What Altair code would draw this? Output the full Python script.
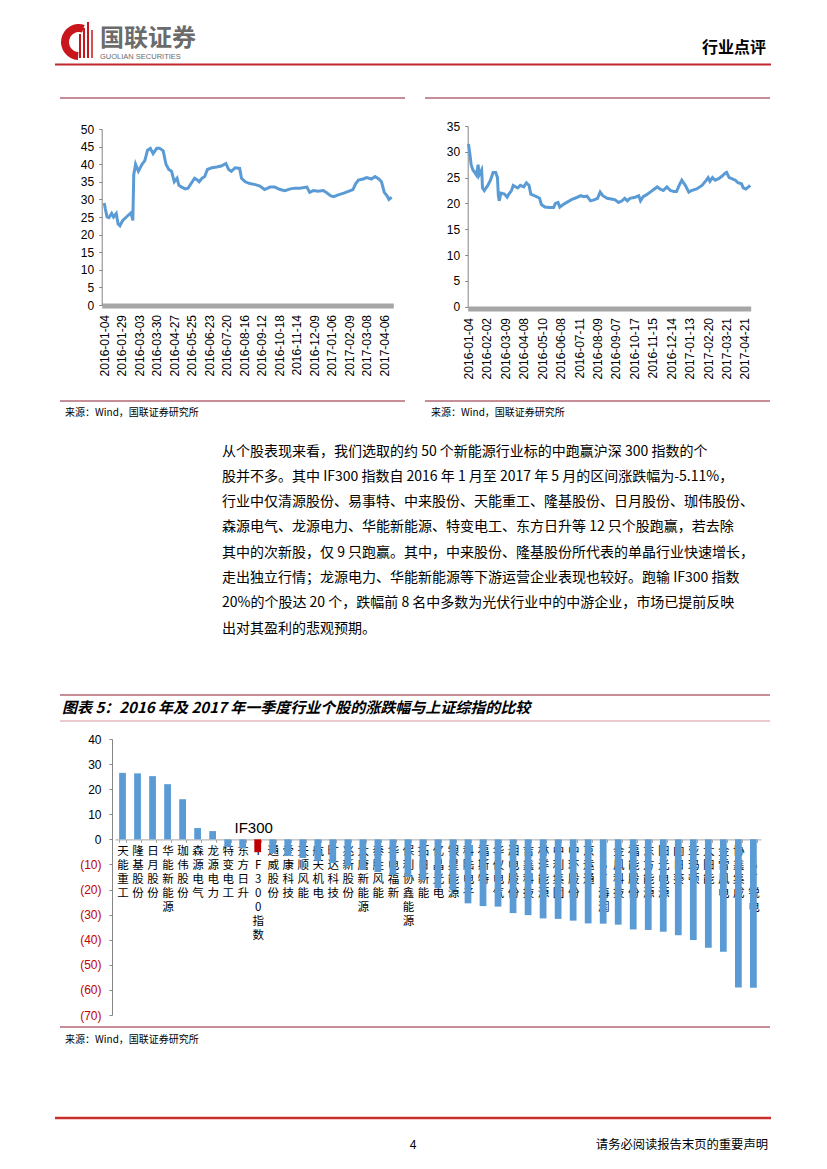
import altair as alt
import pandas as pd

CJK = "Noto Sans CJK SC"
LAT = "Liberation Sans"
W, H = 811, 1153
M = 8


def P(v):
    return v - M


# ---------------- data ----------------
left_idx = [0, 1, 3, 5, 8, 10, 13, 15, 17, 20, 22, 26, 29, 31, 32, 34, 37, 41, 44, 47,
            50, 53, 57, 60, 64, 67, 70, 73, 76, 79, 81, 84, 88, 91, 95, 98, 101, 103, 106, 109,
            112, 117, 122, 127, 132, 135, 138, 142, 147, 149, 153, 158, 164, 169, 174, 180, 185, 191, 196, 202,
            207, 212, 220, 223, 227, 232, 238, 241, 246, 249, 254, 260, 265, 270, 273, 276, 281, 285, 290, 294,
            298, 301, 304, 307, 309, 312]
left_val = [29, 27.5, 25, 24.8, 26, 25, 26, 23, 22.5, 24, 24.5, 25.5, 26.2, 24, 37, 40, 38, 40, 41, 44,
            44.5, 43, 44.5, 44.5, 43.8, 40, 38.5, 38, 35, 36, 34, 33.5, 33, 33.2, 34.8, 36, 35.5, 35, 36, 36.5,
            38.5, 39, 39.2, 39.5, 40.2, 38.5, 38, 39, 38.8, 36, 35, 34.5, 34.2, 33.8, 32.8, 33.5, 33.5, 32.8, 32.5, 33,
            33.2, 33.2, 33.5, 32, 32.5, 32.3, 32.5, 32, 31, 30.8, 31.3, 31.8, 32.3, 32.8, 34.5, 35.5, 35.8, 36.2, 35.8, 36.5,
            35.8, 35, 32, 31, 30, 30.6]
left_ticks = [0, 19, 38, 57, 76, 95, 114, 133, 152, 171, 190, 209, 228, 247, 266, 285, 304]
left_labels = ["2016-01-04", "2016-01-29", "2016-03-03", "2016-03-30", "2016-04-27", "2016-05-25",
               "2016-06-23", "2016-07-20", "2016-08-16", "2016-09-12", "2016-10-18", "2016-11-14",
               "2016-12-09", "2017-01-06", "2017-02-09", "2017-03-08", "2017-04-06"]

right_idx = [0, 2, 3, 5, 7, 9, 11, 12, 15, 16, 18, 22, 25, 28, 31, 33, 34, 35, 37, 41,
             44, 46, 49, 51, 54, 56, 59, 63, 66, 69, 71, 75, 78, 81, 83, 87, 92, 97, 99, 102,
             104, 108, 112, 118, 124, 128, 131, 135, 139, 143, 147, 150, 153, 158, 164, 167, 171, 175, 178, 181,
             184, 190, 194, 196, 199, 203, 207, 211, 215, 218, 222, 226, 230, 234, 237, 240, 243, 247, 251, 254,
             260, 266, 271, 273, 275, 278, 281, 285, 289, 292, 294, 297, 300, 304, 307, 311, 313, 316, 319, 321]
right_val = [31.5, 29, 27.5, 26.5, 26, 25.5, 27.5, 25.5, 26.5, 23, 22.5, 23.5, 24.5, 26, 26, 25, 21.5, 20.5, 22, 21.8,
             21.2, 21.8, 22.5, 23.5, 23.2, 23, 23.5, 23.2, 24, 23.5, 21.8, 21.5, 21.3, 21, 19.8, 19.3, 19.2, 19.2, 20, 20.2,
             19.3, 19.8, 20.2, 20.8, 21.2, 21.5, 21.3, 21.4, 20.5, 20.7, 21, 22.2, 21.5, 21, 20.8, 20.7, 20.2, 20.5, 21, 20.5,
             21, 21.2, 21.5, 20.5, 21.3, 21.7, 22.2, 22.7, 23.2, 22.8, 22.5, 23.2, 22.5, 22.3, 22.3, 23.5, 24.5, 23.5, 22.2, 22.5,
             22.8, 23.5, 24.5, 25, 24.3, 25, 24.5, 24.8, 25.3, 25.8, 26, 25, 24.8, 24.5, 24, 23.8, 23, 22.8, 23.2, 23.5]
right_ticks = [0, 21, 42, 63, 84, 105, 126, 147, 168, 189, 210, 231, 252, 273, 294, 315]
right_labels = ["2016-01-04", "2016-02-02", "2016-03-09", "2016-04-08", "2016-05-10", "2016-06-08",
                "2016-07-11", "2016-08-09", "2016-09-07", "2016-10-17", "2016-11-15", "2016-12-14",
                "2017-01-13", "2017-02-20", "2017-03-21", "2017-04-21"]

bar_cats = ["天能重工", "隆基股份", "日月股份", "华能新能源", "珈伟股份", "森源电气", "龙源电力", "特变电工",
            "东方日升", "IF300指数", "通威股份", "爱康科技", "天顺风能", "航天机电", "旷达科技", "兆新股份",
            "大唐新能源", "泰胜风能", "华电福新", "保利协鑫能源", "拓日新能", "亿晶光电", "银星能源", "科陆电子",
            "福斯特", "华仪电气", "湘电股份", "吉鑫科技", "林洋能源", "中利集团", "中环股份", "京运通",
            "*ST海润", "金风科技", "福能股份", "东方能源", "阳光电源", "向日葵", "亚玛顿", "太阳能",
            "金雷风电", "协鑫集成", "*ST锐电"]
bar_vals = [26.5, 26.3, 25.2, 22.0, 16.0, 4.5, 3.3, -3.0,
            -3.6, -5.11, -5.5, -6.6, -7.4, -8.6, -9.4, -10.6,
            -12.2, -13.0, -14.2, -15.0, -16.2, -19.5, -20.2, -25.5,
            -26.6, -26.8, -29.4, -30.2, -31.5, -31.7, -32.4, -33.5,
            -33.6, -34.0, -35.9, -36.1, -36.8, -38.2, -40.1, -43.2,
            -44.8, -59.0, -59.1]
bar_kind = ["index" if c == "IF300指数" else "stock" for c in bar_cats]
bar_ticks = [-70, -60, -50, -40, -30, -20, -10, 0, 10, 20, 30, 40]
index_cat = "IF300指数"
index_note = "IF300"

para_lines = [
    "\u3000\u3000从个股表现来看，我们选取的约 50 个新能源行业标的中跑赢沪深 300 指数的个",
    "股并不多。其中 IF300 指数自 2016 年 1 月至 2017 年 5 月的区间涨跌幅为-5.11%，",
    "行业中仅清源股份、易事特、中来股份、天能重工、隆基股份、日月股份、珈伟股份、",
    "森源电气、龙源电力、华能新能源、特变电工、东方日升等 12 只个股跑赢，若去除",
    "其中的次新股，仅 9 只跑赢。其中，中来股份、隆基股份所代表的单晶行业快速增长，",
    "走出独立行情；龙源电力、华能新能源等下游运营企业表现也较好。跑输 IF300 指数",
    "20%的个股达 20 个，跌幅前 8 名中多数为光伏行业中的中游企业，市场已提前反映",
    "出对其盈利的悲观预期。",
]
source_text = "来源：Wind，国联证券研究所"
fig_title = "图表 5：2016 年及 2017 年一季度行业个股的涨跌幅与上证综指的比较"

one = pd.DataFrame({"a": [0]})


def rule(x1, x2, y, color, w):
    return alt.Chart(one).mark_rule(color=color, strokeWidth=w).encode(
        x=alt.value(P(x1)), x2=alt.value(P(x2)), y=alt.value(P(y)))


def vrule(x, y1, y2, color, w):
    return alt.Chart(one).mark_rule(color=color, strokeWidth=w).encode(
        x=alt.value(P(x)), y=alt.value(P(y1)), y2=alt.value(P(y2)))


def text(s, x, y, size, color="#000000", font=CJK, weight="normal", align="left",
         baseline="middle", italic=False, line_height=None):
    kw = dict(text=s, fontSize=size, color=color, font=font, fontWeight=weight,
              align=align, baseline=baseline)
    if italic:
        kw["fontStyle"] = "italic"
    if line_height:
        kw["lineHeight"] = line_height
    return alt.Chart(one).mark_text(**kw).encode(x=alt.value(P(x)), y=alt.value(P(y)))


def label_expr(ticks, labels):
    arr_l = "[" + ",".join("'%s'" % s for s in labels) + "]"
    arr_t = "[" + ",".join(str(t) for t in ticks) + "]"
    return "%s[indexof(%s, datum.value)]" % (arr_l, arr_t)


LINE_BLUE = "#5b9bd5"
AX_GRAY = "#a6a6a6"

# ---------------- left line chart ----------------
left_df = pd.DataFrame({"d": left_idx, "v": left_val})
left_chart = alt.Chart(left_df).mark_line(color=LINE_BLUE, strokeWidth=3).encode(
    x=alt.X("d:Q", title=None,
            scale=alt.Scale(domain=[-2.8, 313.8], range=[P(101.7), P(393.3)], nice=False, zero=False),
            axis=alt.Axis(orient="bottom", offset=P(305.5) - H, values=left_ticks,
                          labelExpr=label_expr(left_ticks, left_labels), labelAngle=270,
                          grid=False, ticks=False, domainColor=AX_GRAY, domainWidth=5,
                          labelPadding=9, labelFont=LAT, labelFontSize=12, labelColor="#000000",
                          labelOverlap=False)),
    y=alt.Y("v:Q", title=None,
            scale=alt.Scale(domain=[0, 50], range=[P(305), P(129)], nice=False, zero=False),
            axis=alt.Axis(orient="left", offset=-P(101.7), values=list(range(0, 55, 5)),
                          grid=False, tickSize=3, tickColor="#868686", domainColor="#868686",
                          labelPadding=5, labelFont=LAT, labelFontSize=12, labelColor="#000000")),
)

# ---------------- right line chart ----------------
right_df = pd.DataFrame({"d": right_idx, "v": right_val})
right_chart = alt.Chart(right_df).mark_line(color=LINE_BLUE, strokeWidth=3).encode(
    x=alt.X("d:Q", title=None,
            scale=alt.Scale(domain=[-0.9, 321.5], range=[P(467.7), P(750.7)], nice=False, zero=False),
            axis=alt.Axis(orient="bottom", offset=P(308.5) - H, values=right_ticks,
                          labelExpr=label_expr(right_ticks, right_labels), labelAngle=270,
                          grid=False, ticks=False, domainColor=AX_GRAY, domainWidth=5,
                          labelPadding=9, labelFont=LAT, labelFontSize=12, labelColor="#000000",
                          labelOverlap=False)),
    y=alt.Y("v:Q", title=None,
            scale=alt.Scale(domain=[0, 35], range=[P(306.7), P(126)], nice=False, zero=False),
            axis=alt.Axis(orient="left", offset=-P(467.7), values=list(range(0, 40, 5)),
                          grid=False, tickSize=3, tickColor="#868686", domainColor="#868686",
                          labelPadding=5, labelFont=LAT, labelFontSize=12, labelColor="#000000")),
)

# ---------------- bar chart ----------------
bar_df = pd.DataFrame({"c": bar_cats, "v": bar_vals, "k": bar_kind})
bars = alt.Chart(bar_df).mark_bar().encode(
    x=alt.X("c:N", title=None, sort=bar_cats,
            scale=alt.Scale(domain=bar_cats, range=[P(115), P(760.9)], paddingInner=0.55, paddingOuter=0.275),
            axis=alt.Axis(orient="bottom", offset=P(839.4) - H,
                          labelExpr="split(datum.label, '')", labelAngle=0, labelAlign="center",
                          labelBaseline="top", labelLineHeight=14, labelFont=CJK, labelFontSize=11.5,
                          labelPadding=3, labelOverlap=False, labelColor="#000000",
                          tickBand="extent", tickSize=3, tickColor=AX_GRAY, domainColor=AX_GRAY,
                          grid=False)),
    y=alt.Y("v:Q", title=None,
            scale=alt.Scale(domain=[-70, 40], range=[P(1015), P(739)], nice=False),
            axis=alt.Axis(orient="left", offset=-P(112), values=bar_ticks,
                          labelExpr="datum.value < 0 ? '(' + (-datum.value) + ')' : '' + datum.value",
                          labelColor={"condition": {"test": "datum.value < 0", "value": "#c00000"},
                                      "value": "#000000"},
                          grid=False, tickSize=3, tickColor="#868686", domainColor="#868686",
                          labelPadding=8, labelFont=LAT, labelFontSize=12)),
    y2=alt.datum(0),
    color=alt.Color("k:N", legend=None,
                    scale=alt.Scale(domain=["stock", "index"], range=[LINE_BLUE, "#c00000"])),
)
note_df = pd.DataFrame({"c": [index_cat], "t": [index_note]})
note = alt.Chart(note_df).mark_text(font=LAT, fontSize=15, baseline="alphabetic", dy=-6, dx=-4,
                                    color="#000000").encode(
    x=alt.X("c:N"), y=alt.datum(0), text="t:N")
bar_chart = alt.layer(bars, note)

# ---------------- page decorations ----------------
DARK_RED = "#8c1f2e"
decor = [
    # header
    alt.Chart(one).mark_arc(color="#c8161d", innerRadius=10, outerRadius=18, theta=3.2, theta2=6.6).encode(
        x=alt.value(P(79)), y=alt.value(P(42))),
    vrule(80, 58, 34, "#c8161d", 2),
    vrule(84, 58, 28, "#c8161d", 2),
    vrule(88, 58, 22, "#c8161d", 2),
    vrule(92, 58, 30, "#c8161d", 1.5),
    text("国联证券", 100, 38.5, 24, color="#6b6b6b", weight="bold"),
    text("GUOLIAN SECURITIES", 100, 57, 7.5, color="#6b6b6b", font=LAT),
    text("行业点评", 766, 48, 16, weight="bold", align="right"),
    rule(55, 771, 64.5, "#c0282d", 2),
    # chart frames
    rule(60, 405, 98, DARK_RED, 1),
    rule(425, 770, 98, DARK_RED, 1),
    rule(60, 405, 401, DARK_RED, 1),
    rule(425, 770, 401, DARK_RED, 1),
    text(source_text, 65, 413, 10),
    text(source_text, 431, 413, 10),
    # paragraph
    text(para_lines, 222, 455.5, 14, baseline="alphabetic", line_height=25.3),
    # figure 5 title
    rule(60, 770, 695, DARK_RED, 1),
    text(fig_title, 62, 708, 15, weight="bold", italic=True),
    rule(60, 770, 721, "#d7949b", 1),
    rule(60, 770, 1027, DARK_RED, 1),
    text(source_text, 65, 1040, 10),
    # footer
    rule(55, 771, 1118, "#c9302c", 2.5),
    text("4", 413, 1145, 12, font=LAT, align="center"),
    text("请务必阅读报告末页的重要声明", 768, 1145, 12.3, align="right"),
]

chart = alt.layer(*decor, left_chart, right_chart, bar_chart).resolve_scale(
    x="independent", y="independent", color="independent"
).properties(
    width=W, height=H, autosize=alt.AutoSizeParams(type="none"), padding=0, background="white"
).configure_view(strokeWidth=0)

chart.save("out.html", embed_options={"renderer": "svg", "actions": False})
